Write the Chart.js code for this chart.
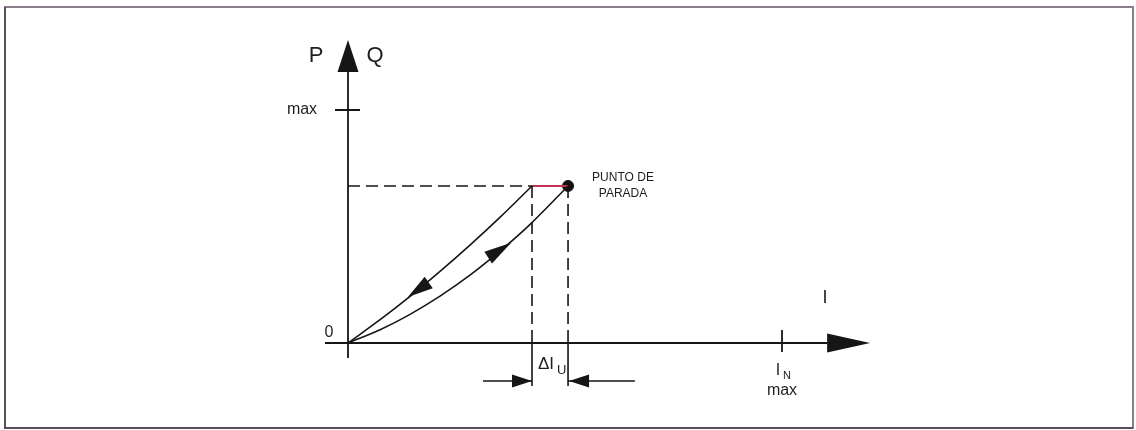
<!DOCTYPE html>
<html>
<head>
<meta charset="utf-8">
<script src="https://cdn.jsdelivr.net/npm/chart.js@4/dist/chart.umd.min.js"></script>
<style>
  html, body { margin: 0; padding: 0; background: #fff; }
  #wrap { width: 1136px; height: 430px; position: relative; }
</style>
</head>
<body>
<div id="wrap"><canvas id="pq" width="1136" height="430"></canvas></div>
<script>
// --- datos (I en % de I_N, P/Q en % del máximo) ---
const returnCurveX = [0, 7.4, 14.3, 21.2, 28.1, 35.0, 42.4];
const returnCurveY = [0, 10.0, 20.0, 30.7, 42.0, 53.9, 67.4];
const startCurveX  = [0, 7.4, 14.3, 21.2, 28.1, 35.0, 41.9, 50.7];
const startCurveY  = [0, 5.7, 12.3, 20.1, 29.1, 39.4, 50.8, 67.4];
const stopI = 50.7, stopP = 67.4;      // punto de parada
const returnI = 42.4;                  // vuelta
const xAxisRange = [-5.3, 110.4, 120.3]; // inicio, base flecha, punta
const yAxisRange = [-6.4, 116.3, 130.0];
const xTickValue = 100, yTickValue = 100;
const xTickLabel = ['I', 'N', 'max'];
const yTickLabel = 'max';
const dimY = -16.3, dimEndY = -18.5;       // cota ΔI_U
const dimLeftX = 31.1, dimRightX = 66.1;
// flechas sobre las curvas: [punta, cola]
const returnArrow = [[13.8, 19.7], [18.6, 26.0]];
const startArrow  = [[37.6, 43.0], [32.3, 36.6]];

const INK = '#161616';
const FONT = '"Liberation Sans", Arial, sans-serif';
const zip = (xs, ys) => xs.map((x, i) => ({x, y: ys[i]}));
const seg = (x0, y0, x1, y1) => [{x: x0, y: y0}, {x: x1, y: y1}];

function arrowHead(ctx, tx, ty, bx, by, half) {
  const dx = tx - bx, dy = ty - by, len = Math.hypot(dx, dy);
  const nx = -dy / len * half, ny = dx / len * half;
  ctx.beginPath();
  ctx.moveTo(tx, ty);
  ctx.lineTo(bx + nx, by + ny);
  ctx.lineTo(bx - nx, by - ny);
  ctx.closePath();
  ctx.fill();
}

const decor = {
  id: 'decor',
  beforeDraw(chart) {
    const {ctx} = chart;
    ctx.save();
    ctx.fillStyle = '#fff';
    ctx.fillRect(0, 0, chart.width, chart.height);
    ctx.restore();
  },
  afterDatasetsDraw(chart) {
    const {ctx, scales: {x, y}} = chart;
    const X = v => x.getPixelForValue(v), Y = v => y.getPixelForValue(v);
    ctx.save();
    // marco
    ctx.strokeStyle = '#8a7f8a';
    ctx.lineWidth = 2;
    ctx.strokeRect(5, 7, 1128, 421);
    ctx.strokeStyle = '#5a4d5a';
    ctx.beginPath();
    ctx.moveTo(5, 7); ctx.lineTo(5, 428); ctx.lineTo(1133, 428);
    ctx.stroke();

    ctx.strokeStyle = INK; ctx.fillStyle = INK; ctx.lineWidth = 1.8;
    // ejes
    ctx.beginPath();
    ctx.moveTo(X(0), Y(yAxisRange[0])); ctx.lineTo(X(0), Y(yAxisRange[1]));
    ctx.moveTo(X(xAxisRange[0]), Y(0)); ctx.lineTo(X(xAxisRange[1]), Y(0));
    // marcas
    ctx.moveTo(X(0) - 13, Y(yTickValue)); ctx.lineTo(X(0) + 12, Y(yTickValue));
    ctx.moveTo(X(xTickValue), Y(0) - 13); ctx.lineTo(X(xTickValue), Y(0) + 9);
    ctx.stroke();
    arrowHead(ctx, X(0), Y(yAxisRange[2]), X(0), Y(yAxisRange[1]), 10.5);
    arrowHead(ctx, X(xAxisRange[2]), Y(0), X(xAxisRange[1]), Y(0), 9.5);

    // flechas de las curvas
    [returnArrow, startArrow].forEach(a =>
      arrowHead(ctx, X(a[0][0]), Y(a[0][1]), X(a[1][0]), Y(a[1][1]), 7));
    // flechas de cota
    arrowHead(ctx, X(returnI), Y(dimY), X(returnI) - 20, Y(dimY), 6.5);
    arrowHead(ctx, X(stopI) + 1, Y(dimY), X(stopI) + 21, Y(dimY), 6.5);

    // textos
    ctx.fillStyle = '#1e1e1e';
    ctx.textBaseline = 'middle';
    ctx.textAlign = 'center';
    ctx.font = '22px ' + FONT;
    ctx.fillText('P', 316, 56);
    ctx.fillText('Q', 375, 56);
    ctx.font = '16px ' + FONT;
    ctx.fillText(yTickLabel, 302, Y(yTickValue));
    ctx.fillText('0', 329, 333);
    ctx.font = '18px ' + FONT;
    ctx.fillText('I', 825, 298);
    ctx.font = '16px ' + FONT;
    ctx.fillText(xTickLabel[0], X(xTickValue) - 4, 371);
    ctx.font = '11px ' + FONT;
    ctx.fillText(xTickLabel[1], X(xTickValue) + 5, 376);
    ctx.font = '16px ' + FONT;
    ctx.fillText(xTickLabel[2], X(xTickValue), 391);
    // ΔI_U
    ctx.font = '17px ' + FONT;
    ctx.textAlign = 'left';
    ctx.fillText('\u0394I', 538, 364);
    ctx.font = '13px ' + FONT;
    ctx.fillText('U', 557, 370);
    // punto de parada
    ctx.textAlign = 'center';
    ctx.font = '12px ' + FONT;
    ctx.fillText('PUNTO DE', 623, 178);
    ctx.fillText('PARADA', 623, 194);
    ctx.restore();
  }
};

const thin = {borderColor: INK, borderWidth: 1.6, pointRadius: 0, fill: false, clip: false};
const dashed = {...thin, borderDash: [12, 6], borderWidth: 1.6};

new Chart(document.getElementById('pq'), {
  type: 'line',
  data: {
    datasets: [
      {...thin, label: 'vuelta', data: zip(returnCurveX, returnCurveY), tension: 0.35},
      {...thin, label: 'arranque', data: zip(startCurveX, startCurveY), tension: 0.35},
      {...dashed, label: 'nivel', data: seg(0, stopP, returnI, stopP)},
      {...dashed, label: 'I vuelta', data: seg(returnI, stopP, returnI, 0)},
      {...dashed, label: 'I parada', data: seg(stopI, stopP, stopI, 0)},
      {...thin, label: 'ΔP', data: seg(returnI, stopP, stopI, stopP), borderColor: '#c2334f', borderWidth: 2},
      {...thin, label: 'cota izq', data: seg(returnI, 0, returnI, dimEndY)},
      {...thin, label: 'cota der', data: seg(stopI, 0, stopI, dimEndY)},
      {...thin, label: 'cota flecha izq', data: seg(dimLeftX, dimY, returnI, dimY)},
      {...thin, label: 'cota flecha der', data: seg(stopI, dimY, dimRightX, dimY)},
      {label: 'parada', data: [{x: stopI, y: stopP}], showLine: false, pointRadius: 5.5,
       pointBackgroundColor: '#111', pointBorderColor: '#111', clip: false}
    ]
  },
  options: {
    responsive: false,
    animation: false,
    layout: {padding: {left: 348, right: 354, top: 110, bottom: 87}},
    plugins: {legend: {display: false}, tooltip: {enabled: false}},
    scales: {
      x: {type: 'linear', min: 0, max: 100, display: false},
      y: {type: 'linear', min: 0, max: 100, display: false}
    }
  },
  plugins: [decor]
});
</script>
</body>
</html>
